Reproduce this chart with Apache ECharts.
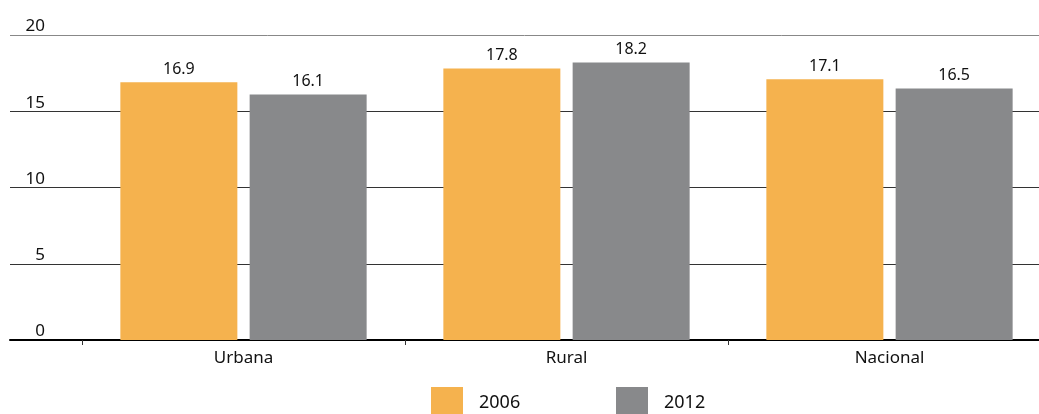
<!DOCTYPE html>
<html>
<head>
<meta charset="utf-8">
<script src="https://cdn.jsdelivr.net/npm/echarts@6/dist/echarts.min.js"></script>
<style>
html,body{margin:0;padding:0;background:#fff;}
#chart{width:1039px;height:414px;}
</style>
</head>
<body>
<div id="chart"></div>
<script>
const categories = ['Urbana', 'Rural', 'Nacional'];
const seriesNames = ['2006', '2012'];
const values2006 = [16.9, 17.8, 17.1];
const values2012 = [16.1, 18.2, 16.5];
const yTicks = { min: 0, max: 20, interval: 5 };

const FONT = '"Noto Sans", sans-serif';
const chart = echarts.init(document.getElementById('chart'), null, { renderer: 'canvas' });

chart.setOption({
  animation: false,
  textStyle: { fontFamily: FONT },
  grid: [
    { left: 10, right: 0, top: 35, bottom: 74, outerBoundsMode: 'none', containLabel: false },
    { left: 82, width: 969, top: 35, bottom: 74, outerBoundsMode: 'none', containLabel: false }
  ],
  legend: [
    {
      data: ['2006'], left: 431, top: 387, padding: 0,
      itemWidth: 32, itemHeight: 32, icon: 'rect',
      textStyle: { fontSize: 18, color: '#111', fontFamily: FONT, padding: [0, 0, 0, 11] }
    },
    {
      data: ['2012'], left: 616, top: 387, padding: 0,
      itemWidth: 32, itemHeight: 32, icon: 'rect',
      textStyle: { fontSize: 18, color: '#111', fontFamily: FONT, padding: [0, 0, 0, 11] }
    }
  ],
  xAxis: [
    {
      gridIndex: 0, type: 'value', min: 0, max: 1,
      axisLine: { show: true, lineStyle: { color: '#000', width: 2 } },
      axisTick: { show: false }, axisLabel: { show: false }, splitLine: { show: false }
    },
    {
      gridIndex: 1, type: 'category', data: categories,
      axisLine: { show: false },
      axisTick: { show: true, length: 5, lineStyle: { color: '#333', width: 1 } },
      axisLabel: { fontSize: 17, color: '#111', margin: 10, fontFamily: FONT }
    }
  ],
  yAxis: [
    {
      gridIndex: 0, type: 'value', min: yTicks.min, max: yTicks.max, interval: yTicks.interval,
      axisLine: { show: false }, axisTick: { show: false },
      axisLabel: {
        inside: true, margin: 35, align: 'right', verticalAlign: 'bottom',
        fontSize: 17, color: '#111', fontFamily: FONT, padding: [0, 0, 0, 0]
      },
      splitLine: { show: true, lineStyle: { color: ['#000', '#333', '#333', '#333', '#888'], width: 1 } }
    },
    {
      gridIndex: 1, type: 'value', min: yTicks.min, max: yTicks.max, interval: yTicks.interval,
      show: false, splitLine: { show: false }
    }
  ],
  series: [
    {
      name: seriesNames[0], type: 'bar', xAxisIndex: 1, yAxisIndex: 1,
      data: values2006, barWidth: 117, barGap: '10.5%',
      itemStyle: { color: '#F5B24E' },
      label: { show: true, position: 'top', distance: 5, fontSize: 16, color: '#111', fontFamily: FONT }
    },
    {
      name: seriesNames[1], type: 'bar', xAxisIndex: 1, yAxisIndex: 1,
      data: values2012, barWidth: 117, barGap: '10.5%',
      itemStyle: { color: '#88898B' },
      label: { show: true, position: 'top', distance: 5, fontSize: 16, color: '#111', fontFamily: FONT }
    }
  ]
});
</script>
</body>
</html>
